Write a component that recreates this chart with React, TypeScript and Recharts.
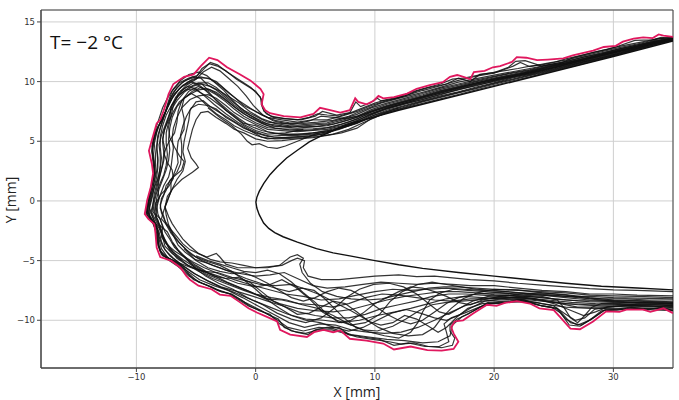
import React from 'react';
import { ComposedChart, Line, XAxis, YAxis, CartesianGrid, ReferenceArea } from 'recharts';

type P = [number, number];

const xTicks = [-10, 0, 10, 20, 30];
const yTicks = [-10, -5, 0, 5, 10, 15];
const xDomain: [number, number] = [-18, 35];
const yDomain: [number, number] = [-14, 16];
const titleText = 'T= \u22122 \u00b0C';
const xLabel = 'X [mm]';
const yLabel = 'Y [mm]';

const airfoil: P[] = [[35,13.4],[30,12.1],[25,10.85],[20,9.6],[15,8.35],[12,7.6],[10,7.05],[8.5,6.65],[7.5,6.3],[6.5,5.9],[5.5,5.45],[4.5,4.95],[3.5,4.25],[2.6,3.6],[1.8,2.85],[1.2,2.2],[0.67,1.45],[0.3,0.8],[0.1,0.3],[0.02,-0.1],[0.1,-0.6],[0.3,-1.15],[0.67,-1.85],[1.1,-2.3],[1.6,-2.65],[2.3,-3.0],[3.5,-3.45],[5.1,-4.0],[6.5,-4.35],[7.9,-4.6],[10,-5.0],[12,-5.35],[14,-5.65],[17,-6.0],[20,-6.3],[23,-6.6],[26,-6.9],[29,-7.15],[32,-7.3],[35,-7.45]];

const envelope: P[] = [[35,13.75],[34.2,13.85],[33.8,13.95],[33.3,13.65],[32.5,13.7],[31.7,13.6],[30.8,13.35],[30.2,13.0],[29.2,12.9],[28.3,12.6],[26.6,12.2],[25.8,11.95],[24.5,11.85],[23.6,11.8],[22.7,12.0],[21.9,12.05],[21.5,11.65],[20.5,11.3],[19.9,11.2],[19.2,10.9],[18.3,10.8],[18.0,10.2],[17.1,10.5],[16.9,10.55],[16.3,10.4],[15.7,9.95],[14.6,9.7],[13.5,9.4],[12.7,9.0],[11.6,8.7],[10.7,8.6],[10.3,8.8],[9.9,8.4],[9.3,8.1],[8.6,8.3],[8.35,8.6],[7.9,7.6],[7.1,7.4],[6.25,7.6],[5.4,7.8],[4.85,7.3],[3.75,7.0],[2.35,7.1],[1.2,7.35],[0.8,7.6],[0.5,8.1],[0.67,8.95],[0.4,9.4],[-0.45,10.1],[-1.3,10.6],[-2.4,11.2],[-3.2,11.8],[-3.9,12.0],[-4.6,11.3],[-5.2,10.6],[-6.0,10.4],[-6.9,9.8],[-7.3,8.95],[-7.7,7.6],[-8.0,6.8],[-8.3,6.5],[-8.7,5.1],[-8.95,4.2],[-8.7,3.1],[-8.6,2.3],[-8.8,1.15],[-9.1,0.05],[-9.3,-1.1],[-9.0,-1.5],[-8.5,-1.95],[-8.4,-2.7],[-8.3,-3.9],[-8.0,-4.7],[-7.1,-5.0],[-6.3,-5.6],[-5.8,-6.3],[-5.5,-6.6],[-4.8,-7.1],[-3.7,-7.4],[-3.0,-7.85],[-2.1,-7.95],[-1.3,-8.5],[-0.6,-9.0],[0.1,-9.35],[0.9,-9.7],[1.8,-10.1],[2.05,-10.8],[2.9,-11.2],[4.3,-11.4],[4.9,-11.0],[5.7,-10.8],[6.5,-11.0],[7.1,-10.85],[7.9,-11.55],[9.3,-11.7],[10.7,-11.95],[11.6,-12.45],[13.0,-12.2],[14.4,-12.5],[15.6,-12.55],[16.6,-12.4],[17.0,-11.8],[16.6,-11.1],[16.4,-10.6],[16.7,-10.1],[17.4,-10.0],[18.3,-9.4],[19.4,-8.7],[20.2,-8.8],[20.9,-8.55],[21.9,-8.4],[23.0,-8.6],[23.8,-9.0],[25.0,-9.15],[25.5,-9.7],[26.4,-10.7],[27.2,-10.75],[28.3,-10.1],[29.4,-9.25],[30.5,-9.3],[31.1,-9.1],[32.5,-9.1],[33.1,-9.3],[34.2,-9.0],[35,-9.4]];

const runA: P[] = [[35,13.46],[33.5,13.1],[32,12.68],[30.5,12.3],[29,11.9],[27.5,11.5],[26,11.15],[24.5,10.8],[23,10.4],[21.5,10.05],[20,9.67],[18.5,9.3],[17,8.92],[15.5,8.55],[14,8.17],[12.5,7.8],[11,7.4],[9.7,6.9],[8.5,6.1],[7.2,5.7],[6,5.5],[4.8,5.3],[3.5,5.2],[2.2,5.05],[1,5.0],[0,5.2],[-1,5.7],[-1.8,6.0],[-2.5,6.5],[-3.3,7.0],[-4,7.5],[-4.6,7.4],[-5.0,6.8],[-5.3,6.0],[-5.5,5.2],[-5.7,4.4],[-5.4,3.6],[-5.0,3.1],[-4.8,2.8],[-5.3,2.4],[-6.2,1.8],[-6.9,1.1],[-7.4,0.4],[-7.6,-0.5],[-7.3,-1.3],[-7.0,-1.9],[-6.6,-2.5],[-6.1,-3.2],[-5.5,-3.8],[-4.8,-4.4],[-4.1,-4.7],[-3.3,-4.4],[-3.0,-4.7],[-2.5,-5.3],[-1.5,-5.6],[0,-5.6],[1.2,-5.5],[2.2,-5.4],[3.0,-5.0],[3.5,-4.8],[4.1,-5.0],[4.0,-5.6],[4.4,-6.3],[5.5,-6.6],[7,-6.6],[8.5,-6.45],[10,-6.3],[12,-6.2],[13.5,-6.35],[15,-6.3],[16.5,-6.45],[18,-6.6],[20,-6.7],[22,-6.9],[24,-7.05],[26,-7.2],[28,-7.35],[30,-7.45],[32,-7.5],[35,-7.6]];

const runB: P[] = [[35,13.5],[33.5,13.2],[32,12.78],[30.5,12.4],[29,12.0],[27.5,11.65],[26,11.3],[24.5,10.95],[23,10.6],[21.5,10.3],[20,9.9],[18.5,9.55],[17,9.15],[15.5,8.8],[14,8.4],[12.5,8.0],[11,7.6],[9.7,7.1],[8.5,6.5],[7.2,6.1],[6,5.8],[4.8,5.6],[3.5,5.5],[2.2,5.5],[1,5.4],[0,5.7],[-1,6.1],[-1.8,6.6],[-2.5,7.0],[-3.3,7.7],[-4,8.0],[-4.8,8.1],[-5.4,7.8],[-5.8,7.1],[-6.1,6.3],[-6.3,5.5],[-6.2,4.7],[-6.2,3.9],[-6.3,3.1],[-6.6,2.4],[-7.2,1.7],[-7.5,0.9],[-7.9,0.2],[-8.0,-0.6],[-7.7,-1.3],[-7.5,-2.0],[-7.1,-2.7],[-6.6,-3.3],[-6.0,-3.9],[-5.4,-4.5],[-4.5,-5.0],[-3.6,-5.4],[-2.5,-5.8],[-1.2,-6.1],[0,-6.3],[1.2,-6.2],[2.4,-6.0],[3.5,-6.5],[4.8,-7.1],[6,-7.3],[7.5,-7.2],[9,-7.0],[10.5,-6.8],[12,-6.9],[13.5,-7.0],[15,-6.9],[16.5,-7.0],[18,-7.1],[20,-7.1],[22,-7.3],[24,-7.5],[26,-7.6],[28,-7.8],[30,-7.8],[32,-7.9],[35,-7.95]];

const runC: P[] = [[35,13.55],[33.5,13.3],[32,12.9],[30.5,12.55],[29,12.15],[27.5,11.8],[26,11.45],[24.5,11.1],[23,10.75],[21.5,10.45],[20,10.1],[18.5,9.8],[17,9.45],[15.5,9.05],[14,8.6],[12.5,8.2],[11,7.8],[9.7,7.3],[8.5,6.7],[7.2,6.3],[6,6.0],[4.8,5.9],[3.5,5.8],[2.2,5.9],[1,6.0],[0,6.4],[-1,6.9],[-1.8,7.4],[-2.5,8.0],[-3.3,8.6],[-4,8.9],[-4.8,8.8],[-5.5,8.5],[-6.2,7.8],[-6.6,7.0],[-6.9,6.1],[-7.0,5.3],[-6.9,4.4],[-7.0,3.6],[-7.1,2.8],[-7.3,2.0],[-7.7,1.3],[-8.0,0.5],[-8.3,-0.3],[-8.2,-1.1],[-7.9,-1.8],[-7.6,-2.6],[-7.2,-3.2],[-6.8,-3.9],[-6.2,-4.5],[-5.3,-5.1],[-4.3,-5.6],[-3.1,-6.1],[-1.8,-6.6],[-0.5,-7.0],[1,-7.4],[2.5,-7.8],[4,-8.0],[5.5,-8.3],[7,-8.2],[8.5,-7.9],[10,-7.6],[11.5,-7.4],[13,-7.5],[14.5,-7.4],[16,-7.3],[17.5,-7.4],[19,-7.5],[21,-7.6],[23,-7.75],[25,-7.9],[27,-8.1],[29,-8.2],[31,-8.2],[33,-8.3],[35,-8.3]];

const runD: P[] = [[35,13.58],[33.5,13.35],[32,12.95],[30.5,12.65],[29,12.25],[27.5,11.9],[26,11.55],[24.5,11.25],[23,10.9],[21.5,10.6],[20,10.3],[18.5,10.0],[17,9.6],[15.5,9.25],[14,8.8],[12.5,8.4],[11,8.0],[9.7,7.55],[8.5,7.0],[7.2,6.6],[6,6.3],[4.8,6.2],[3.5,6.1],[2.2,6.2],[1,6.3],[0,6.8],[-1,7.3],[-1.8,7.9],[-2.5,8.5],[-3.3,9.1],[-4,9.4],[-4.8,9.3],[-5.6,8.9],[-6.4,8.3],[-6.9,7.5],[-7.3,6.6],[-7.5,5.7],[-7.5,4.8],[-7.4,3.9],[-7.5,3.0],[-7.7,2.2],[-8.0,1.5],[-8.3,0.7],[-8.5,-0.1],[-8.6,-0.9],[-8.2,-1.6],[-8.0,-2.4],[-7.7,-3.2],[-7.3,-3.9],[-6.6,-4.6],[-5.8,-5.3],[-4.8,-5.9],[-3.6,-6.5],[-2.3,-7.0],[-1.0,-7.5],[0.5,-8.0],[2,-8.6],[3.5,-9.0],[5,-9.2],[6.5,-9.3],[8,-9.1],[9.5,-8.7],[11,-8.3],[12.5,-8.0],[14,-7.8],[15.5,-7.6],[17,-7.6],[18.5,-7.7],[20,-7.85],[22,-7.95],[24,-8.1],[26,-8.3],[28,-8.45],[30,-8.5],[32,-8.55],[35,-8.6]];

const runE: P[] = [[35,13.62],[33.5,13.45],[32,13.05],[30.5,12.75],[29,12.35],[27.5,12.05],[26,11.65],[24.5,11.4],[23,11.0],[21.5,10.75],[20,10.45],[18.5,10.15],[17,9.8],[15.5,9.45],[14,9.0],[12.5,8.6],[11,8.2],[9.7,7.8],[8.5,7.25],[7.2,6.85],[6,6.55],[4.8,6.45],[3.5,6.35],[2.2,6.5],[1,6.6],[0,7.1],[-1,7.6],[-1.8,8.2],[-2.5,8.8],[-3.3,9.5],[-4,9.9],[-4.8,9.9],[-5.6,9.5],[-6.4,8.9],[-7.0,8.1],[-7.5,7.2],[-7.8,6.3],[-8.0,5.4],[-8.0,4.5],[-7.9,3.6],[-8.0,2.7],[-8.2,1.9],[-8.5,1.1],[-8.7,0.2],[-8.9,-0.6],[-8.6,-1.4],[-8.3,-2.2],[-8.1,-3.0],[-7.8,-3.8],[-7.2,-4.6],[-6.3,-5.3],[-5.3,-6.0],[-4.2,-6.6],[-3.0,-7.2],[-1.7,-7.7],[-0.3,-8.3],[1.2,-8.9],[2.7,-9.5],[4.2,-9.9],[5.7,-10.0],[7.2,-10.2],[8.7,-10.0],[10.2,-9.6],[11.7,-9.3],[13,-9.0],[14.5,-8.6],[16,-8.2],[17.5,-8.0],[19,-8.1],[21,-8.2],[23,-8.3],[25,-8.5],[27,-8.7],[29,-8.8],[31,-8.8],[33,-8.85],[35,-8.9]];

const runF: P[] = [[35,13.68],[33.8,13.6],[33,13.4],[32,13.15],[30.5,12.85],[29,12.5],[27.5,12.15],[26,11.8],[24.5,11.55],[23,11.25],[22.2,11.6],[21.6,11.3],[20,10.7],[18.5,10.45],[17,10.1],[15.5,9.65],[14,9.25],[12.5,8.8],[11,8.4],[9.7,8.0],[8.5,7.5],[7.2,7.1],[6,6.8],[4.8,6.8],[3.5,6.6],[2.2,6.8],[1,7.0],[0,7.5],[-1,8.0],[-1.8,8.7],[-2.5,9.3],[-3.3,10.0],[-4,10.3],[-4.8,10.3],[-5.6,10.0],[-6.4,9.4],[-7.0,8.6],[-7.5,7.6],[-8.0,6.6],[-8.3,5.7],[-8.5,4.8],[-8.4,3.9],[-8.4,3.0],[-8.5,2.1],[-8.7,1.2],[-8.9,0.3],[-9.1,-0.7],[-8.8,-1.6],[-8.3,-2.3],[-8.2,-3.3],[-8.0,-4.2],[-7.4,-4.9],[-6.5,-5.5],[-5.6,-6.3],[-4.5,-6.9],[-3.3,-7.4],[-2.1,-7.8],[-0.9,-8.5],[0.5,-9.2],[1.7,-9.9],[2.7,-10.6],[4,-10.9],[5.3,-10.6],[6.5,-10.7],[8,-11.2],[9.5,-11.4],[11,-11.6],[12.5,-11.7],[14,-11.9],[15.3,-11.8],[16.3,-11.3],[16.5,-10.4],[17.3,-9.7],[18.5,-9.1],[19.5,-8.5],[21,-8.4],[22.5,-8.3],[24,-8.8],[25.3,-9.0],[26.4,-10.2],[27.3,-10.4],[28.3,-9.8],[29.3,-9.1],[30.5,-9.1],[32,-9.0],[33.5,-9.0],[35,-9.15]];

const runG: P[] = [[35,13.6],[34,13.7],[33.3,13.5],[31.8,13.45],[30.5,13.0],[29.5,12.7],[28.3,12.45],[26.6,12.0],[25.5,11.5],[24,11.3],[22.6,11.75],[21.8,11.7],[21.2,11.2],[20,10.75],[18.8,10.6],[18,10.0],[17,10.3],[16,9.8],[14.5,9.5],[13.5,9.2],[12.5,8.8],[11.5,8.5],[10.5,8.4],[10.2,8.6],[9.6,8.2],[8.8,7.9],[8.4,8.3],[7.9,7.4],[6.8,7.2],[5.6,7.5],[5.0,7.1],[3.8,6.8],[2.4,6.9],[1.3,7.1],[0.7,7.5],[0.5,8.0],[0.4,8.7],[-0.4,9.5],[-1.3,10.1],[-2.4,10.8],[-3.2,11.4],[-3.8,11.6],[-4.4,11.0],[-5.0,10.4],[-5.9,10.1],[-6.6,9.5],[-7.1,8.7],[-7.5,7.6],[-7.8,6.8],[-8.2,6.2],[-8.5,5.1],[-8.7,4.2],[-8.5,3.1],[-8.4,2.3],[-8.6,1.2],[-8.9,0.1],[-9.1,-1.0],[-8.8,-1.5],[-8.3,-2.0],[-8.2,-2.8],[-8.1,-3.8],[-7.8,-4.6],[-6.9,-5.0],[-6.1,-5.5],[-5.6,-6.1],[-4.8,-6.8],[-3.7,-7.2],[-2.9,-7.6],[-2.0,-7.8],[-1.2,-8.3],[-0.5,-8.8],[0.3,-9.2],[1.2,-9.5],[2.0,-10.3],[3.0,-10.9],[4.2,-11.1],[5.2,-10.8],[6.4,-10.8],[7.5,-11.1],[8.5,-11.4],[9.8,-11.6],[11.2,-11.8],[12.2,-12.0],[13.3,-11.9],[14.5,-12.2],[15.6,-12.3],[16.5,-12.1],[16.7,-11.5],[16.3,-10.9],[16.3,-10.4],[16.9,-9.9],[17.8,-9.5],[18.8,-8.9],[19.8,-8.6],[21,-8.5],[22.5,-8.4],[23.5,-8.7],[24.8,-8.9],[25.6,-9.4],[26.3,-10.4],[27.2,-10.5],[28.2,-9.9],[29.2,-9.2],[30.3,-9.15],[31.5,-8.95],[32.8,-9.15],[34,-8.9],[35,-9.2]];

const runH: P[] = [[35,13.52],[33.5,13.25],[32,12.85],[30.5,12.5],[29,12.1],[27.5,11.75],[26,11.4],[24.5,11.0],[23,10.7],[21.5,10.35],[20,10.0],[18.5,9.7],[17,9.3],[15.5,8.95],[14,8.5],[12.5,8.1],[11,7.7],[9.7,7.2],[8.5,6.6],[7.2,6.2],[6,5.9],[4.8,5.7],[3.5,5.6],[2.2,5.6],[1,5.8],[0,6.3],[-1,6.5],[-1.8,7.1],[-2.5,7.6],[-3.3,8.4],[-4,9.2],[-4.8,9.6],[-5.6,9.2],[-6.2,8.4],[-6.5,7.5],[-6.6,6.6],[-6.8,5.7],[-7.3,4.9],[-7.7,4.0],[-7.4,3.2],[-7.0,2.6],[-6.9,1.9],[-7.3,1.2],[-7.9,0.6],[-8.4,-0.2],[-8.5,-1.0],[-8.0,-1.5],[-7.8,-2.2],[-7.9,-3.0],[-7.5,-3.6],[-6.8,-4.2],[-6.0,-4.7],[-5.0,-5.4],[-4.0,-6.0],[-2.8,-6.4],[-1.5,-6.9],[0,-7.2],[1.2,-7.0],[2.2,-6.6],[3.3,-7.2],[4.5,-8.2],[5.6,-9.3],[6.8,-10.0],[8,-10.4],[9.2,-10.2],[10.4,-9.5],[11.3,-8.4],[12.3,-7.6],[13.6,-7.0],[14.8,-6.8],[16,-7.0],[17.2,-7.2],[18.5,-7.4],[20,-7.5],[22,-7.7],[24,-7.9],[26,-8.0],[28,-8.0],[30,-8.1],[32,-8.15],[35,-8.2]];

const runI: P[] = [[35,13.57],[33.5,13.3],[32,12.92],[30.5,12.6],[29,12.2],[27.5,11.85],[26,11.5],[24.5,11.2],[23,10.85],[21.5,10.5],[20,10.2],[18.5,9.9],[17,9.5],[15.5,9.15],[14,8.7],[12.5,8.3],[11,7.9],[9.7,7.45],[8.5,6.85],[7.2,6.45],[6,6.15],[4.8,6.05],[3.5,6.0],[2.2,6.05],[1,6.15],[0,6.55],[-1,7.1],[-1.8,7.7],[-2.5,8.3],[-3.3,8.9],[-4,9.3],[-4.5,9.8],[-5.2,9.9],[-6.0,9.4],[-6.7,8.7],[-7.1,7.9],[-7.2,7.0],[-7.6,6.1],[-7.8,5.2],[-7.6,4.3],[-7.7,3.4],[-7.9,2.6],[-8.1,1.8],[-8.2,1.0],[-8.1,0.2],[-8.3,-0.6],[-8.4,-1.4],[-8.1,-2.0],[-7.4,-2.6],[-7.0,-3.4],[-6.5,-4.1],[-5.8,-4.8],[-5.1,-5.6],[-4.2,-6.3],[-3.1,-6.9],[-1.9,-7.4],[-0.7,-8.1],[0.6,-8.7],[1.8,-9.4],[3.0,-9.9],[4.2,-10.2],[5.5,-9.8],[6.6,-9.0],[7.6,-8.1],[8.7,-7.4],[9.9,-7.0],[11.2,-6.9],[12.4,-7.2],[13.5,-7.8],[14.5,-8.6],[15.4,-9.3],[16.2,-9.5],[17.1,-9.0],[18.2,-8.4],[19.5,-8.0],[21,-7.9],[23,-8.0],[25,-8.2],[27,-8.35],[29,-8.4],[31,-8.5],[33,-8.5],[35,-8.55]];

const runJ: P[] = [[35,13.5],[33.5,13.2],[32,12.8],[30.5,12.45],[29,12.05],[27.5,11.7],[26,11.35],[24.5,11.05],[23,10.65],[21.5,10.4],[20,10.05],[18.5,9.65],[17,9.35],[15.5,8.9],[14,8.5],[12.5,8.15],[11,7.75],[9.7,7.25],[8.5,6.75],[7.2,6.25],[6,5.65],[4.8,5.45],[3.5,5.4],[2.2,5.3],[1,5.2],[0,5.5],[-1,5.9],[-1.8,6.3],[-2.5,6.8],[-3.3,7.3],[-4,7.9],[-4.7,8.6],[-5.4,9.0],[-6.0,8.6],[-6.2,7.8],[-6.0,6.9],[-6.0,6.0],[-6.5,5.0],[-6.6,4.1],[-6.5,3.2],[-6.8,2.4],[-7.1,1.6],[-7.1,0.8],[-7.4,0.0],[-7.7,-0.8],[-7.9,-1.5],[-7.3,-2.2],[-6.9,-2.9],[-6.5,-3.7],[-5.9,-4.3],[-5.1,-4.9],[-4.1,-5.2],[-3.0,-5.6],[-2.0,-6.0],[-0.8,-6.5],[0.4,-6.9],[1.6,-7.3],[2.8,-7.6],[3.9,-7.3],[4.9,-7.5],[5.8,-8.2],[6.6,-9.0],[7.4,-9.8],[8.4,-10.6],[9.6,-11.0],[10.8,-11.3],[12.0,-11.5],[13.0,-11.0],[13.6,-10.2],[14.0,-9.3],[14.6,-8.3],[15.5,-7.7],[16.6,-7.4],[17.8,-7.5],[19.2,-7.6],[20.8,-7.7],[22.4,-7.9],[24,-8.0],[25.3,-8.3],[25.9,-9.0],[26.4,-9.8],[27.0,-10.2],[27.6,-9.6],[28.2,-8.9],[29,-8.6],[30.5,-8.6],[32,-8.7],[33.5,-8.7],[35,-8.8]];

const runK: P[] = [[35,13.6],[33.5,13.4],[32,13.0],[30.5,12.7],[29,12.3],[27.5,11.95],[26,11.6],[24.5,11.3],[23,10.95],[21.5,10.7],[20,10.4],[18.5,10.05],[17,9.7],[15.5,9.35],[14,8.9],[12.5,8.5],[11,8.1],[9.7,7.65],[8.5,7.1],[7.2,6.75],[6,6.45],[4.8,6.35],[3.5,6.25],[2.2,6.3],[1,6.45],[0,6.95],[-1,7.45],[-1.8,8.05],[-2.5,8.65],[-3.3,9.3],[-4,9.7],[-4.6,10.3],[-5.3,10.4],[-6.2,9.9],[-6.9,9.1],[-7.3,8.2],[-7.6,7.3],[-7.9,6.4],[-8.2,5.5],[-8.3,4.6],[-8.2,3.7],[-8.2,2.8],[-8.3,2.0],[-8.5,1.2],[-8.7,0.4],[-8.9,-0.4],[-8.9,-1.2],[-8.5,-1.9],[-8.1,-2.6],[-7.9,-3.4],[-7.6,-4.1],[-6.9,-4.8],[-6.1,-5.4],[-5.1,-6.1],[-4.0,-6.7],[-2.9,-7.2],[-1.5,-7.6],[-0.2,-8.0],[1.0,-8.4],[2.3,-8.8],[3.6,-9.3],[5.0,-9.6],[6.4,-9.8],[7.8,-9.8],[9.2,-9.5],[10.6,-9.0],[12.0,-8.7],[13.4,-8.4],[14.8,-8.0],[16.2,-7.8],[17.6,-7.8],[19,-7.9],[20.5,-8.0],[22.5,-8.1],[24.5,-8.3],[26.5,-8.5],[28.5,-8.6],[30.5,-8.65],[32.5,-8.7],[35,-8.75]];

const runL: P[] = [[35,13.55],[33.5,13.35],[32,12.95],[30.5,12.6],[29,12.3],[27.5,11.9],[26,11.55],[24.5,11.2],[23,10.8],[21.5,10.55],[20,10.25],[18.5,9.9],[17,9.55],[15.5,9.2],[14,8.75],[12.5,8.35],[11,7.95],[9.7,7.5],[8.5,7.1],[7.5,6.9],[6.5,7.0],[5.5,7.1],[4.5,6.7],[3.5,6.5],[2.5,6.5],[1.5,6.7],[0.6,7.2],[-0.2,8.0],[-0.8,8.8],[-1.5,9.6],[-2.3,10.3],[-3.0,10.9],[-3.7,11.2],[-4.4,10.8],[-5.0,10.2],[-5.8,9.7],[-6.5,9.0],[-6.9,8.0],[-7.1,7.1],[-7.3,6.2],[-7.2,5.3],[-6.8,4.5],[-6.4,3.8],[-6.0,3.3],[-6.2,2.6],[-6.9,2.0],[-7.5,1.3],[-7.7,0.5],[-8.0,-0.3],[-7.9,-1.0],[-7.6,-1.7],[-7.1,-2.4],[-6.6,-3.0],[-6.1,-3.6],[-5.5,-4.1],[-4.6,-4.5],[-3.8,-4.9],[-3.0,-5.1],[-2.0,-5.2],[-1.0,-5.4],[0,-5.6],[1.0,-5.6],[2.0,-5.4],[2.5,-5.0],[2.9,-4.7],[3.5,-4.5],[4.0,-4.8],[3.7,-5.3],[3.9,-6.0],[4.6,-6.9],[5.6,-7.6],[6.8,-8.0],[8.0,-8.2],[9.3,-8.3],[10.6,-8.2],[11.9,-7.9],[13.2,-7.6],[14.5,-7.3],[15.8,-7.2],[17.1,-7.2],[18.4,-7.3],[20,-7.4],[22,-7.5],[24,-7.6],[26,-7.7],[28,-7.9],[30,-7.95],[32,-8.0],[35,-8.1]];

const runM: P[] = [[35,13.53],[32,12.88],[29,12.18],[26,11.42],[23,10.72],[20,10.12],[17,9.4],[14,8.65],[12,8.05],[10.5,7.6],[9,7.1],[7.8,6.6],[6.5,6.2],[5.2,6.0],[4,5.9],[2.8,5.95],[1.6,6.1],[0.5,6.5],[-0.5,7.0],[-1.4,7.6],[-2.2,8.2],[-3.0,8.8],[-3.8,9.3],[-4.6,9.5],[-5.3,9.2],[-6.0,8.6],[-6.6,7.9],[-7.0,7.0],[-7.2,6.1],[-7.3,5.2],[-7.2,4.3],[-7.3,3.4],[-7.5,2.6],[-7.8,1.8],[-8.1,1.0],[-8.3,0.2],[-8.4,-0.6],[-8.3,-1.4],[-8.0,-2.1],[-7.8,-2.9],[-7.4,-3.6],[-6.9,-4.3],[-6.1,-4.9],[-5.2,-5.5],[-4.2,-6.1],[-3.0,-6.6],[-1.8,-7.1],[-0.5,-7.6],[0.8,-8.2],[2.2,-8.3],[3.6,-8.6],[5.0,-8.7],[6.4,-8.9],[7.8,-8.6],[9.2,-8.1],[10.6,-7.8],[12,-7.9],[13.5,-8.1],[15,-8.3],[16.5,-8.4],[18,-8.2],[19.5,-8.2],[21,-8.1],[23,-8.2],[25,-8.5],[27,-8.9],[29,-8.9],[31,-8.8],[33,-8.7],[35,-8.7]];

const runN: P[] = [[35,13.64],[32,13.08],[29,12.4],[26,11.7],[23,11.1],[20,10.55],[17,9.95],[14,9.1],[12,8.6],[10.5,8.2],[9,7.6],[7.8,7.1],[6.5,6.75],[5.2,6.6],[4,6.5],[2.8,6.55],[1.6,6.75],[0.5,7.2],[-0.5,7.8],[-1.4,8.4],[-2.2,9.0],[-3.0,9.7],[-3.8,10.2],[-4.6,10.4],[-5.3,10.2],[-6.1,9.7],[-6.8,9.0],[-7.3,8.1],[-7.7,7.1],[-8.0,6.1],[-8.2,5.2],[-8.3,4.3],[-8.2,3.4],[-8.3,2.5],[-8.5,1.6],[-8.7,0.7],[-8.9,-0.2],[-9.0,-1.0],[-8.6,-1.7],[-8.2,-2.4],[-8.1,-3.2],[-7.9,-4.0],[-7.4,-4.7],[-6.6,-5.3],[-5.7,-5.9],[-4.7,-6.6],[-3.5,-7.1],[-2.3,-7.5],[-1.1,-8.1],[0.2,-8.8],[1.5,-9.5],[2.8,-10.2],[4.1,-10.6],[5.4,-10.3],[6.7,-10.4],[8.0,-10.8],[9.4,-11.0],[10.8,-11.1],[12.2,-11.0],[13.6,-10.6],[15.0,-10.0],[16.2,-9.4],[17.5,-8.8],[19,-8.4],[20.5,-8.3],[22,-8.2],[24,-8.6],[26,-8.9],[28,-9.0],[30,-9.0],[32,-8.95],[35,-9.05]];

const runO: P[] = [[35,13.49],[32,12.75],[29,12.0],[26,11.25],[23,10.55],[20,9.85],[17,9.1],[14,8.35],[12,7.8],[10.5,7.3],[9,6.7],[7.8,6.3],[6.5,5.95],[5.2,5.75],[4,5.6],[2.8,5.55],[1.6,5.65],[0.5,5.9],[-0.5,6.3],[-1.4,6.9],[-2.2,7.5],[-3.0,8.2],[-3.8,8.9],[-4.6,9.6],[-5.4,10.0],[-6.2,9.6],[-6.9,8.8],[-7.4,7.8],[-7.8,6.9],[-8.3,6.0],[-8.6,5.0],[-8.7,4.1],[-8.6,3.2],[-8.5,2.3],[-8.7,1.4],[-8.9,0.5],[-9.1,-0.4],[-9.2,-1.1],[-8.7,-1.6],[-8.4,-2.4],[-8.3,-3.3],[-8.0,-4.2],[-7.3,-4.8],[-6.4,-5.2],[-5.4,-5.6],[-4.3,-5.9],[-3.2,-6.0],[-2.0,-6.4],[-0.8,-6.7],[0.4,-7.0],[1.7,-7.1],[3.0,-7.0],[4.2,-7.4],[5.5,-7.9],[6.8,-8.6],[8.0,-9.2],[9.2,-9.9],[10.3,-10.6],[11.5,-11.1],[12.8,-11.3],[14.0,-11.2],[15.0,-10.6],[15.6,-9.8],[16.4,-9.0],[17.4,-8.2],[18.6,-7.7],[20,-7.4],[22,-7.45],[24,-7.7],[26,-7.85],[28,-8.1],[30,-8.3],[32,-8.35],[35,-8.45]];

const runP: P[] = [[35,13.47],[32,12.72],[29,11.95],[26,11.2],[23,10.5],[20,9.78],[17,9.05],[14,8.3],[12,7.7],[10.5,7.2],[9,6.55],[7.8,6.0],[6.5,5.6],[5.2,5.4],[4,5.3],[2.8,5.25],[1.6,5.2],[0.5,5.35],[-0.5,5.9],[-1.4,6.4],[-2.2,6.9],[-3.0,7.4],[-3.8,7.9],[-4.4,8.4],[-5.0,8.3],[-5.5,7.6],[-5.6,6.8],[-5.8,5.9],[-6.0,5.0],[-6.1,4.1],[-5.9,3.3],[-6.1,2.5],[-6.6,1.8],[-7.0,1.0],[-7.3,0.3],[-7.6,-0.5],[-7.5,-1.2],[-7.3,-2.0],[-6.9,-2.8],[-6.4,-3.5],[-5.8,-4.1],[-5.0,-4.7],[-4.0,-5.1],[-3.0,-5.4],[-2.0,-5.9],[-1.0,-6.6],[0.0,-7.4],[1.0,-8.3],[2.0,-9.0],[3.0,-9.6],[4.2,-10.0],[5.4,-10.2],[6.6,-10.6],[7.8,-10.9],[9.0,-10.6],[10.2,-10.0],[11.4,-9.4],[12.6,-9.1],[13.8,-9.4],[15.0,-9.8],[16.0,-10.0],[17.0,-9.6],[18.0,-9.0],[19.2,-8.4],[20.6,-8.2],[22,-8.0],[23.5,-8.2],[25,-8.6],[26.5,-9.2],[27.5,-9.6],[28.5,-9.3],[29.5,-8.9],[31,-8.8],[33,-8.8],[35,-8.95]];

const runQ: P[] = [[35,13.56],[32,12.92],[29,12.22],[26,11.48],[23,10.8],[20,10.18],[17,9.5],[14,8.72],[12,8.15],[10.5,7.7],[9,7.2],[7.8,6.8],[6.5,6.45],[5.2,6.25],[4,6.2],[2.8,6.3],[1.6,6.5],[0.5,6.9],[-0.5,7.5],[-1.4,8.2],[-2.2,8.7],[-3.0,9.2],[-3.8,9.6],[-4.6,9.8],[-5.3,9.6],[-6.0,9.1],[-6.6,8.4],[-7.1,7.6],[-7.4,6.7],[-7.7,5.8],[-7.8,4.9],[-7.7,4.0],[-7.8,3.1],[-8.0,2.3],[-8.2,1.5],[-8.4,0.6],[-8.6,-0.2],[-8.7,-1.0],[-8.3,-1.8],[-7.9,-2.5],[-7.6,-3.3],[-7.2,-4.1],[-6.6,-4.8],[-5.7,-5.4],[-4.7,-5.8],[-3.6,-6.2],[-2.4,-6.8],[-1.2,-7.3],[0.0,-7.8],[1.3,-8.1],[2.6,-8.3],[3.9,-8.7],[5.2,-9.0],[6.5,-9.6],[7.8,-10.3],[9.0,-10.8],[10.2,-10.9],[11.5,-10.5],[12.6,-9.9],[13.7,-9.2],[14.8,-8.7],[16.0,-8.5],[17.3,-8.4],[18.6,-8.3],[20,-8.1],[22,-8.1],[24,-8.3],[26,-8.6],[28,-8.7],[30,-8.7],[32,-8.6],[35,-8.65]];

const runR: P[] = [[35,13.7],[33.5,13.55],[32,13.25],[30.5,12.95],[29,12.6],[27.5,12.25],[26,11.9],[25,11.6],[24,11.4],[23,11.3],[22,11.1],[20.5,10.85],[19,10.6],[17.5,10.3],[16.5,10.2],[15.5,9.8],[14,9.4],[13,9.1],[12,8.7],[11,8.5],[10,8.2],[9,7.8],[8,7.4],[7,7.1],[6,7.2],[5.2,7.3],[4.5,7.0],[3.5,6.8],[2.5,6.9],[1.5,7.0],[0.9,7.3],[0.6,7.8],[0.5,8.5],[0.0,9.2],[-0.8,9.7],[-1.6,10.2],[-2.5,10.9],[-3.2,11.3],[-3.9,11.5],[-4.5,11.1],[-4.9,10.5],[-5.6,10.3],[-6.4,9.9],[-7.0,9.2],[-7.3,8.4],[-7.6,7.4],[-8.0,6.6],[-8.4,5.7],[-8.7,4.6],[-8.6,3.7],[-8.5,2.7],[-8.6,1.8],[-8.8,0.9],[-9.0,0.0],[-9.2,-0.8],[-9.0,-1.4],[-8.6,-1.9],[-8.3,-2.7],[-8.2,-3.7],[-7.9,-4.5],[-7.1,-4.9],[-6.3,-5.4],[-5.8,-6.0],[-5.2,-6.6],[-4.2,-7.0],[-3.2,-7.5],[-2.2,-7.8],[-1.4,-8.3],[-0.6,-8.8],[0.2,-9.1],[1.0,-9.5],[1.9,-9.9],[2.4,-10.6],[3.4,-11.0],[4.4,-11.2],[5.0,-10.8],[6.0,-10.6],[7.0,-10.6],[7.8,-11.2],[9.0,-11.4],[10.4,-11.6],[11.6,-12.1],[12.8,-11.9],[14.2,-12.2],[15.4,-12.2],[16.2,-11.8],[16.0,-11.0],[15.8,-10.3],[16.4,-9.8],[17.5,-9.4],[18.5,-9.0],[19.5,-8.6],[20.5,-8.6],[22,-8.3],[23,-8.5],[24,-8.8],[25.2,-9.0],[26,-9.9],[27,-10.4],[28,-10.0],[29,-9.2],[30,-9.1],[31.5,-8.9],[33,-9.1],[35,-9.2]];

const segS1: P[] = [[-6.0,-4.0],[-5.0,-5.0],[-4.0,-5.6],[-3.0,-5.9],[-2.0,-6.1],[-1.0,-6.0],[0.0,-6.4],[1.0,-6.9],[2.0,-7.5],[3.0,-8.1],[4.0,-8.4],[5.0,-8.1],[6.0,-7.6],[7.0,-7.3],[8.0,-7.5],[9.0,-8.0],[10.0,-8.8],[11.0,-9.5],[12.0,-10.0],[13.0,-10.3],[14.0,-10.0],[15.0,-9.3],[16.0,-8.6],[17.0,-8.1],[18.5,-7.8],[20,-7.7],[22,-7.8],[24,-7.9],[26,-8.1],[28,-8.3],[30,-8.35],[32,-8.4],[35,-8.5]];
const segS2: P[] = [[-7.0,-3.5],[-6.3,-4.4],[-5.5,-5.2],[-4.5,-5.8],[-3.5,-6.3],[-2.5,-6.5],[-1.5,-6.4],[-0.5,-6.8],[0.5,-7.6],[1.5,-8.4],[2.5,-8.9],[3.5,-9.5],[4.5,-9.4],[5.5,-8.9],[6.5,-8.4],[7.5,-8.6],[8.5,-9.3],[9.5,-10.1],[10.5,-10.4],[11.5,-10.2],[12.5,-9.6],[13.5,-9.9],[14.5,-10.5],[15.3,-11.0],[16.0,-10.6],[16.8,-9.8],[17.8,-9.0],[19,-8.6],[20.5,-8.5],[22,-8.45],[23.5,-8.5],[25,-8.8],[26,-9.5],[26.8,-10.0],[27.6,-9.8],[28.4,-9.1],[29.5,-8.9],[31,-8.75],[33,-8.8],[35,-8.85]];
const segS3: P[] = [[4,6.0],[2.5,5.7],[1,5.6],[0,5.9],[-1,6.4],[-2,7.2],[-3,8.0],[-3.8,8.6],[-4.5,9.0],[-5.2,9.4],[-5.9,9.3],[-6.5,8.8],[-7.0,8.0],[-7.3,7.1],[-7.6,6.3],[-7.9,5.5],[-8.1,4.7],[-8.0,3.8],[-8.0,3.0],[-8.1,2.2],[-8.3,1.4],[-8.5,0.6],[-8.6,-0.2],[-8.8,-1.0],[-8.5,-1.7],[-8.1,-2.3],[-7.8,-3.0],[-7.6,-3.8],[-7.0,-4.4],[-6.2,-5.0]];
const segS4: P[] = [[3,6.2],[1.5,6.3],[0.5,6.6],[-0.5,7.2],[-1.3,7.8],[-2.0,8.5],[-2.7,9.3],[-3.4,9.9],[-4.1,10.5],[-4.8,10.8],[-5.6,10.6],[-6.3,10.1],[-6.9,9.4],[-7.4,8.6],[-7.8,7.8],[-8.1,6.9],[-8.4,6.0],[-8.6,5.1],[-8.6,4.2],[-8.5,3.3],[-8.5,2.4],[-8.7,1.5],[-8.9,0.6],[-9.0,-0.3],[-9.1,-1.1]];
const segS5: P[] = [[-5.0,-4.6],[-4.0,-5.0],[-3.0,-5.3],[-2.0,-5.6],[-1.0,-5.9],[0.0,-6.0],[1.0,-5.8],[2.0,-6.1],[3.0,-6.8],[4.0,-7.7],[5.0,-8.5],[6.0,-9.5],[7.0,-10.2],[8.0,-10.0],[9.0,-9.4],[10.0,-8.6],[11.0,-8.1],[12.0,-7.6],[13.0,-7.2],[14.0,-7.3],[15.0,-7.6],[16.0,-8.0],[17.0,-8.5],[18.0,-8.7],[19,-8.3],[20.5,-8.0],[22,-7.8],[24,-7.7],[26,-7.9],[28,-8.2],[30,-8.4],[32,-8.5],[35,-8.6]];
const segS6: P[] = [[12,7.8],[10,7.2],[8.5,6.55],[7,6.0],[5.5,5.6],[4.5,5.45],[3.5,5.35],[2.5,5.3],[1.5,5.35],[0.5,5.6],[-0.5,6.0],[-1.5,6.6],[-2.5,7.3],[-3.5,8.1],[-4.3,8.8],[-5.0,9.4],[-5.7,9.6],[-6.3,9.2]];
const segS7: P[] = [[8,6.4],[6.5,5.9],[5,5.6],[3.5,5.0],[2.5,4.6],[1.8,4.4],[1.0,4.5],[0.3,4.8],[-0.3,4.7],[-0.7,5.0],[-1.2,5.6],[-2.0,6.3],[-3.0,7.0],[-4.0,7.8]];

const runs: P[][] = [runA, runB, runC, runD, runE, runF, runG, runH, runI, runJ, runK, runL, runM, runN, runO, runP, runQ, runR, segS1, segS2, segS3, segS4, segS5, segS6, segS7];

const toPts = (a: P[]) => a.map(([x, y]) => ({ x, y }));
const fmt = (v: number) => String(v).replace('-', '\u2212');

const tickStyle = { fontSize: 8.5, fill: '#333', fontFamily: 'DejaVu Sans' };

export default function App() {
  return (
    <div style={{ position: 'absolute', left: 0, top: 0, width: 679, height: 400, background: '#fff' }}>
      <ComposedChart width={679} height={400} margin={{ top: 10, right: 6, bottom: 0, left: 0 }}>
        <CartesianGrid stroke="#cfcfcf" strokeWidth={1} />
        <XAxis
          type="number"
          dataKey="x"
          domain={xDomain}
          ticks={xTicks}
          allowDataOverflow
          height={32}
          tickFormatter={fmt}
          tick={tickStyle}
          tickSize={4}
          tickMargin={2}
          tickLine={{ stroke: '#444' }}
          axisLine={{ stroke: '#444' }}
        />
        <YAxis
          type="number"
          dataKey="y"
          domain={yDomain}
          ticks={yTicks}
          allowDataOverflow
          width={41}
          tickFormatter={fmt}
          tick={tickStyle}
          tickSize={4}
          tickMargin={2}
          tickLine={{ stroke: '#444' }}
          axisLine={{ stroke: '#444' }}
        />
        <Line data={toPts(airfoil)} dataKey="y" type="linear" dot={false} stroke="#111" strokeWidth={1.4} isAnimationActive={false} />
        {runs.map((r, i) => (
          <Line key={i} data={toPts(r)} dataKey="y" type="linear" dot={false} stroke="#111" strokeWidth={1.2} strokeOpacity={0.85} isAnimationActive={false} />
        ))}
        <Line data={toPts(envelope)} dataKey="y" type="linear" dot={false} stroke="#e0185e" strokeWidth={1.8} isAnimationActive={false} />
        <ReferenceArea x1={xDomain[0]} x2={xDomain[1]} y1={yDomain[0]} y2={yDomain[1]} fill="none" stroke="#444" strokeWidth={1} ifOverflow="visible" />
      </ComposedChart>
      <div style={{ position: 'absolute', left: 50, top: 29, fontSize: 19, fontFamily: 'Open Sans', color: '#111', whiteSpace: 'nowrap' }}>{titleText}</div>
      <div style={{ position: 'absolute', left: 357, top: 391, transform: 'translate(-50%, -50%)', fontSize: 14, fontFamily: 'Open Sans', color: '#222', whiteSpace: 'nowrap' }}>{xLabel}</div>
      <div style={{ position: 'absolute', left: 10, top: 200, transform: 'translate(-50%, -50%) rotate(-90deg)', fontSize: 14, fontFamily: 'Open Sans', color: '#222', whiteSpace: 'nowrap' }}>{yLabel}</div>
    </div>
  );
}
